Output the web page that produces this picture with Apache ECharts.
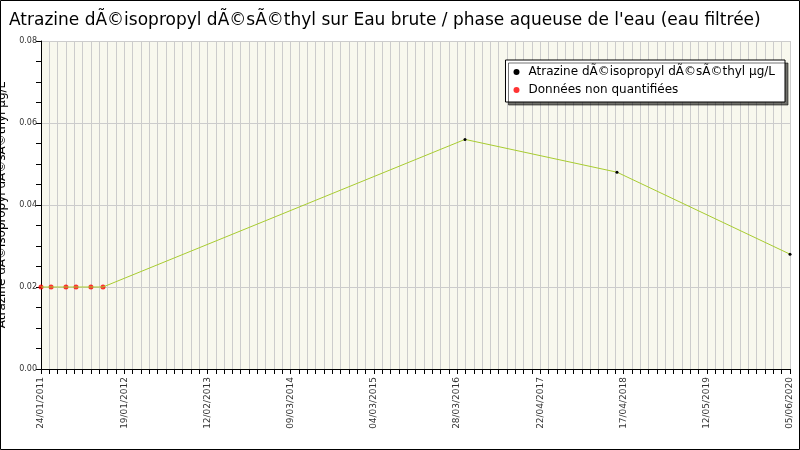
<!DOCTYPE html><html><head><meta charset="utf-8"><script src="https://cdn.jsdelivr.net/npm/echarts@6/dist/echarts.min.js"></script></head><body style="margin:0"><div id="c" style="width:800px;height:450px"></div><script>
var tickLabels=['24/01/2011','19/01/2012','12/02/2013','09/03/2014','04/03/2015','28/03/2016','22/04/2017','17/04/2018','12/05/2019','05/06/2020'];
var days=[0,46,114,160,228,283,1936,2630,3420];
var values=[0.02,0.02,0.02,0.02,0.02,0.02,0.056,0.048,0.028];
var nonQuant=[true,true,true,true,true,true,false,false,false];
var seriesName='Atrazine dÃ©isopropyl dÃ©sÃ©thyl µg/L';
var nqName='Données non quantifiées';
var main=days.map(function(d,i){return {value:[d,values[i]],symbolSize:nonQuant[i]?0:3};});
var nq=[];days.forEach(function(d,i){if(nonQuant[i])nq.push([d,values[i]]);});
var f='DejaVu Sans';
var ch=echarts.init(document.getElementById('c'));
ch.setOption({animation:false,backgroundColor:'#fff',
graphic:[{type:'rect',shape:{x:0.5,y:0.5,width:799,height:449},style:{fill:'none',stroke:'#000',lineWidth:1}}],
title:{text:"Atrazine dÃ©isopropyl dÃ©sÃ©thyl sur Eau brute / phase aqueuse de l'eau (eau filtrée)",left:4,top:7,textStyle:{fontFamily:f,fontSize:17,fontWeight:'normal',color:'#000'}},
legend:{orient:'vertical',right:15,top:60,backgroundColor:'#fff',borderColor:'#000',borderWidth:1,padding:[6,10,6,8],itemWidth:14,itemHeight:6,shadowColor:'rgba(0,0,0,0.55)',shadowOffsetX:3,shadowOffsetY:3,shadowBlur:0,textStyle:{fontFamily:f,fontSize:12,color:'#000'},itemGap:6,
data:[{name:seriesName,icon:'circle'},{name:nqName,icon:'circle'}]},
grid:{left:41,right:10,top:41,bottom:81,outerBoundsMode:'none',containLabel:false,backgroundColor:'#f8f8ee',show:true,borderWidth:0},
xAxis:{type:'value',min:0,max:3420,interval:380,
axisLine:{lineStyle:{color:'#000'}},axisTick:{show:true,length:5,lineStyle:{color:'#000'}},
minorTick:{show:true,splitNumber:10,length:5,lineStyle:{color:'#000'}},
splitLine:{show:true,lineStyle:{color:'#ccc'}},minorSplitLine:{show:true,lineStyle:{color:'#ccc'}},
axisLabel:{rotate:90,fontFamily:f,fontSize:9,color:'#333',formatter:function(v){return tickLabels[Math.round(v/380)]||'';}}},
yAxis:{type:'value',min:0,max:0.08,interval:0.02,name:'Atrazine dÃ©isopropyl dÃ©sÃ©thyl µg/L',nameLocation:'middle',nameGap:22,nameTextStyle:{fontFamily:f,fontSize:12,color:'#000'},
axisLine:{show:true,lineStyle:{color:'#000'}},axisTick:{show:true,length:5,lineStyle:{color:'#000'}},
minorTick:{show:true,splitNumber:4,length:5,lineStyle:{color:'#000'}},
splitLine:{show:true,lineStyle:{color:'#ccc'}},
axisLabel:{fontFamily:f,fontSize:8,color:'#333',margin:4,formatter:function(v){return v.toFixed(2);}}},
series:[{name:seriesName,type:'line',data:main,symbol:'circle',itemStyle:{color:'#000'},lineStyle:{color:'#a8cc30',width:1},color:'#a8cc30'},
{name:nqName,type:'scatter',data:nq,symbol:'circle',symbolSize:5,itemStyle:{color:'#f00'}}]
});
</script></body></html>
